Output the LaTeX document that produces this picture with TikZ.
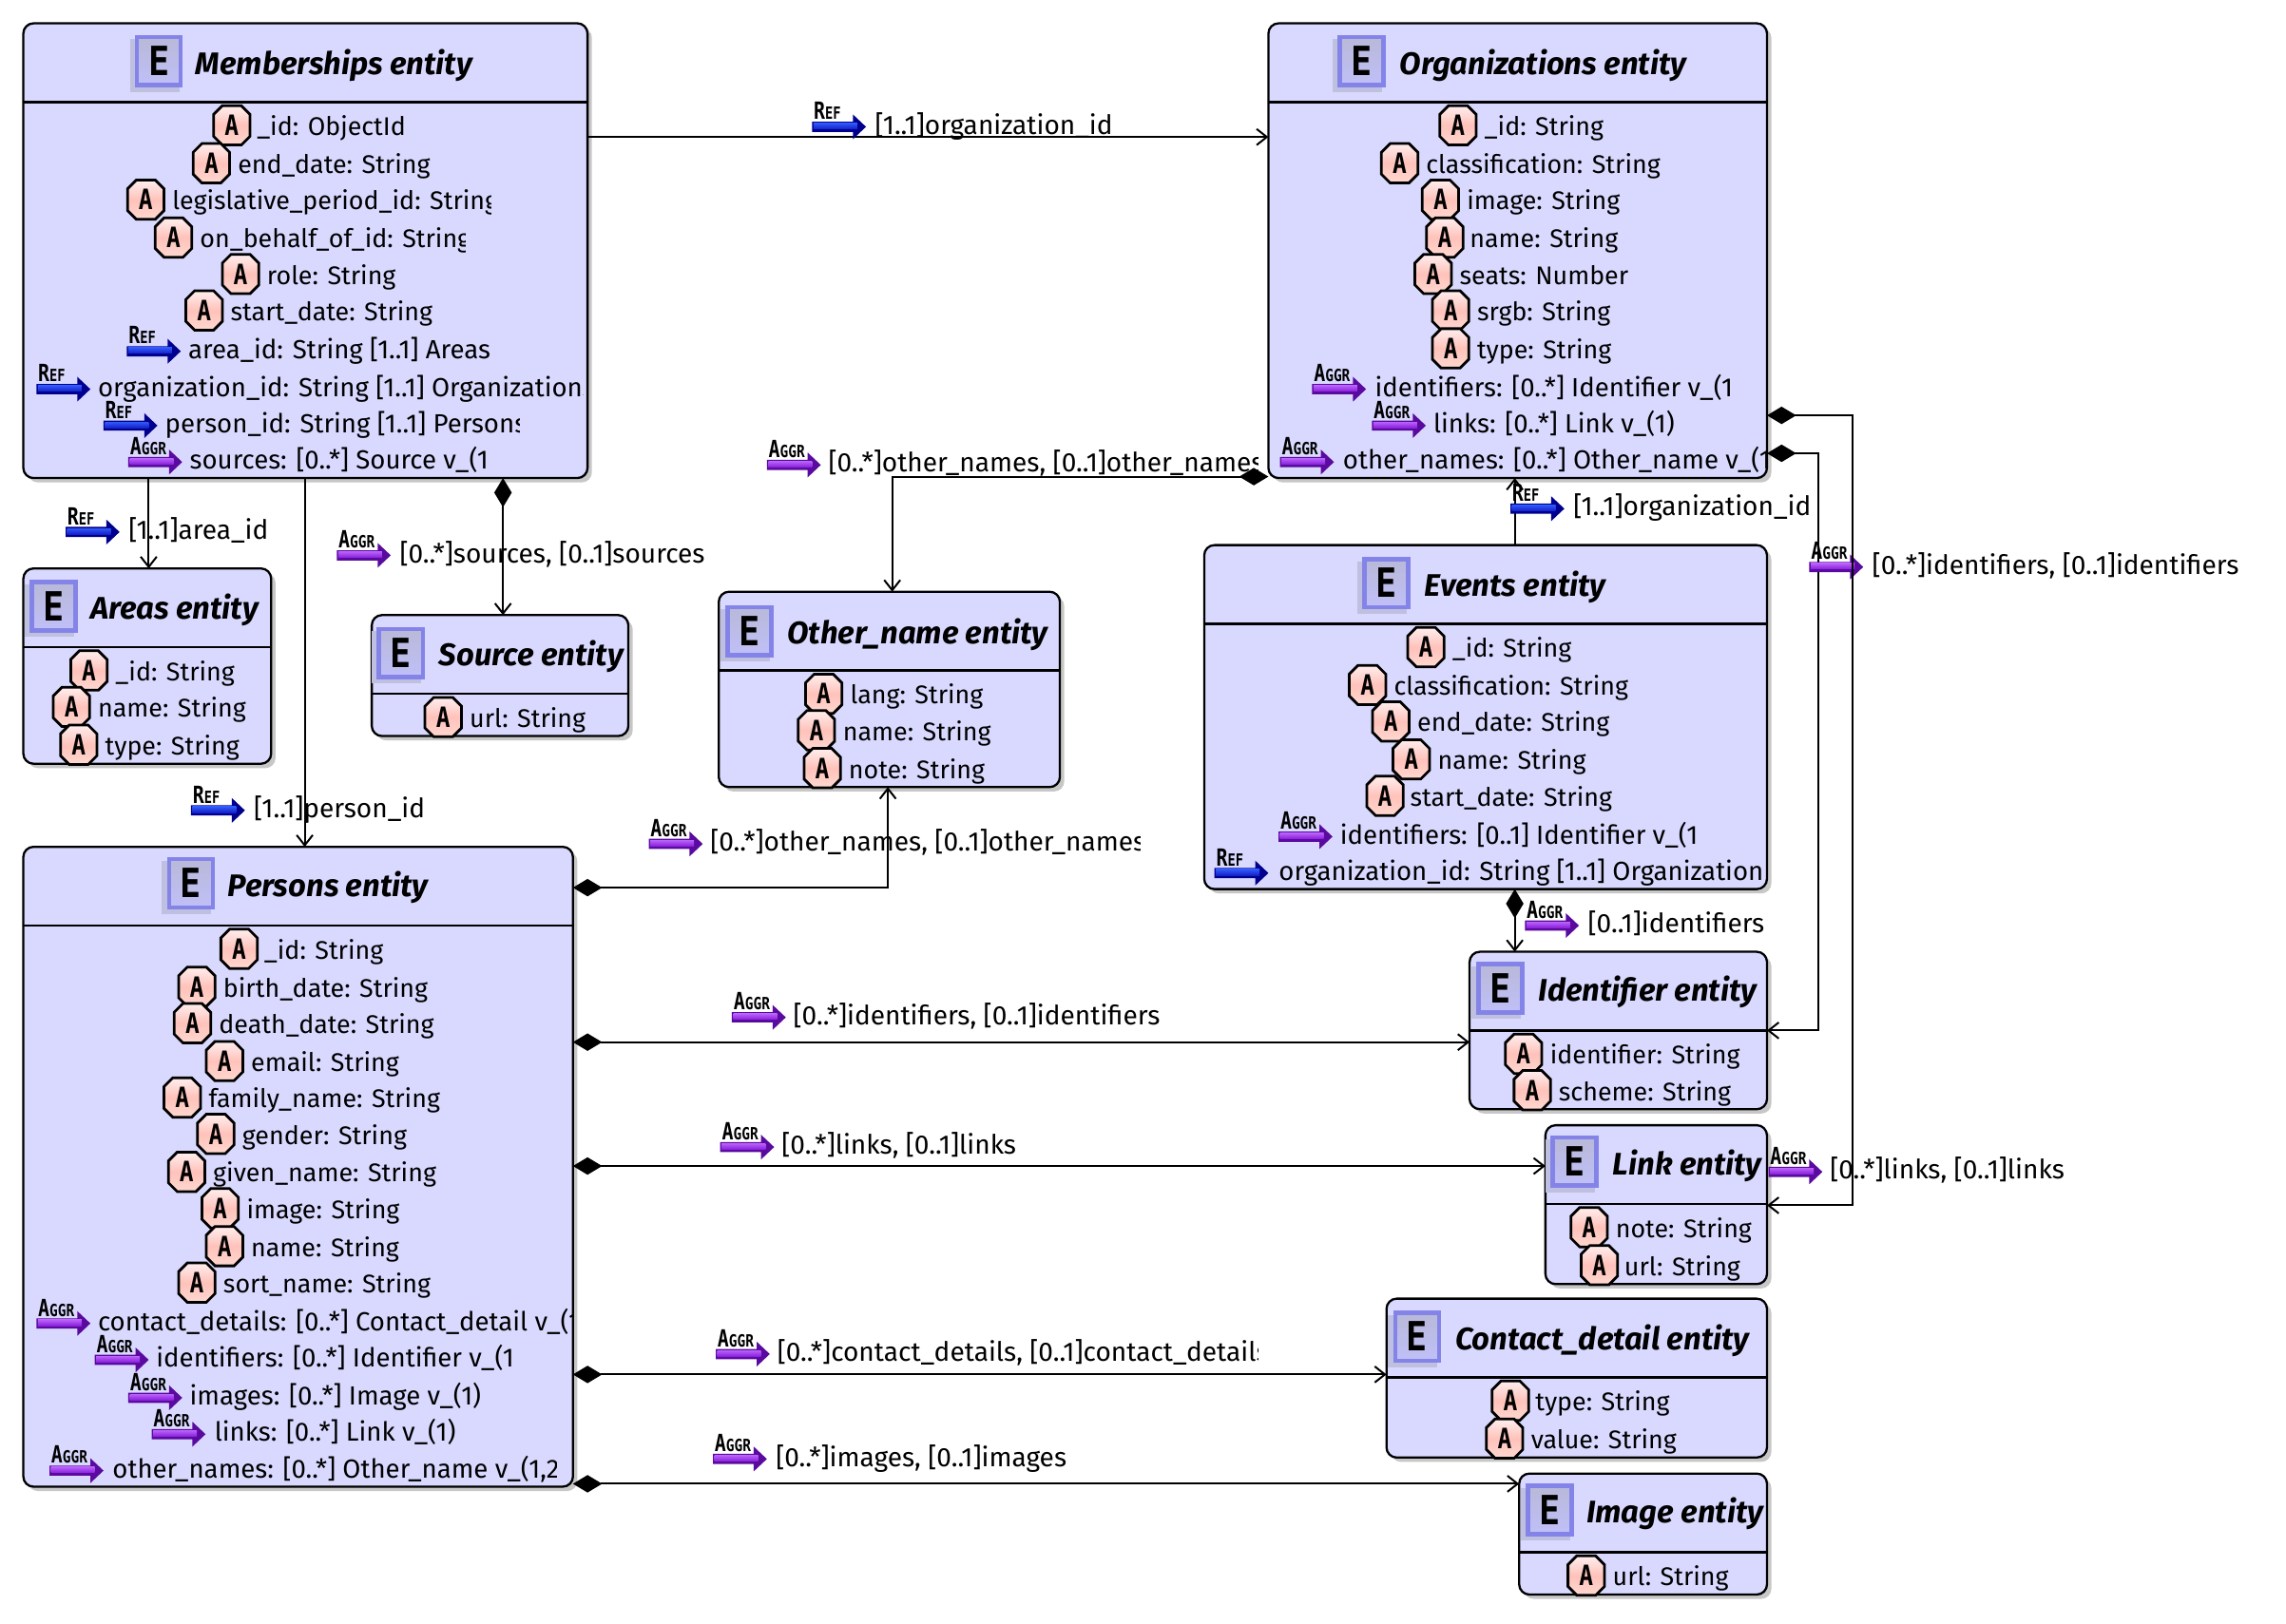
\documentclass[tikz,border=0pt]{standalone}
\usepackage{fontspec}
\setmainfont{Fira Sans}
\newfontfamily\pixfont{DejaVu Sans Mono}
\usetikzlibrary{arrows.meta,shadows,calc}
\definecolor{boxfill}{HTML}{D9D9FF}
\definecolor{refdark}{HTML}{00008E}
\definecolor{refmid}{HTML}{1420C8}
\definecolor{reflight}{HTML}{3058F8}
\definecolor{agdark}{HTML}{5A0A9E}
\definecolor{agmid}{HTML}{8A20DC}
\definecolor{aglight}{HTML}{B860F8}
\definecolor{eborder}{HTML}{8484E8}
\definecolor{atop}{HTML}{FFEEEE}
\definecolor{amid}{HTML}{FFC2BA}
\definecolor{abot}{HTML}{FFD8D0}
\newcounter{nid}
\newcommand{\rowfont}{\fontsize{18}{20}\selectfont}
\tikzset{
 entitybox/.style={draw=black,line width=1.5pt,fill=boxfill,rounded corners=7pt,inner sep=0pt,outer sep=0pt,
   drop shadow={shadow xshift=3pt,shadow yshift=-3pt,fill=black!22,opacity=1}},
 divider/.style={draw=black,line width=1.5pt},
 titletext/.style={anchor=base west,inner sep=0pt,font=\fontsize{21.4}{24}\selectfont\bfseries\itshape},
 rowtext/.style={anchor=base west,inner sep=0pt,font=\rowfont},
 aoct/.style={draw=black,line width=1.8pt,top color=atop,bottom color=abot,middle color=amid},
 aglyph/.style={inner sep=0pt,font=\pixfont\bfseries\fontsize{16}{16}\selectfont},
 eicon/.style={draw=eborder,line width=3pt,minimum width=30pt,minimum height=33pt,inner sep=0pt,
   top color=black!15!boxfill,bottom color=boxfill!70!eborder,font=\pixfont\bfseries\fontsize{24}{24}\selectfont},
 eback/.style={fill=black!12!boxfill},
 refarrow/.style={fill=refdark},
 agarrow/.style={fill=agdark},
 refshaft/.style={top color=reflight,bottom color=refmid},
 agshaft/.style={top color=aglight,bottom color=agmid},
 icontext/.style={anchor=base west,inner sep=0pt,font=\pixfont\bfseries},
 assoc/.style={draw=black,line width=1.3pt,-{Straight Barb[length=7pt,width=11pt,line width=1.3pt]}},
 aggrlink/.style={draw=black,line width=1.3pt,{Diamond[length=20pt,width=12pt]}-{Straight Barb[length=7pt,width=11pt,line width=1.3pt]}},
}
\newcommand{\etitle}[5]{% name, icon x, icon y, title x, text
 \fill[eback] ($(#2,#3)+(-20,-15)$) rectangle ($(#2,#3)+(14,21)$);%
 \node[eicon] (#1icon) at (#2,#3) {\scalebox{1}[1.15]{E}};%
 \node[titletext] (#1title) at (#4,#3+9) {#5};%
}
\newcommand{\tx}[4]{% x, y, clip x, text
 \stepcounter{nid}%
 \begin{scope}\clip (#1-2,#2-15) rectangle (#3,#2+15);%
 \node[rowtext] (t\arabic{nid}) at (#1,#2+7) {#4};\end{scope}%
}
\newcommand{\icA}[2]{\stepcounter{nid}%
 \path[aoct] (#1-6.5,#2-13.5) -- (#1+6.5,#2-13.5) -- (#1+12.5,#2-7.5) -- (#1+12.5,#2+7.5) -- (#1+6.5,#2+13.5) -- (#1-6.5,#2+13.5) -- (#1-12.5,#2+7.5) -- (#1-12.5,#2-7.5) -- cycle;%
 \node[aglyph] (a\arabic{nid}) at (#1,#2) {\scalebox{1}[1.2]{A}};}
\newcommand{\icarrow}[5]{% arrow style, shaft style, left x, row y, caption
 \stepcounter{nid}%
 \path[#1] (#3,#4-1.5) -- ++(28,0) -- ++(0,-5) -- ++(9,8.5) -- ++(-9,8.5) -- ++(0,-5) -- ++(-28,0) -- cycle;%
 \shade[#2] (#3+1,#4-0.5) rectangle (#3+31,#4+3.5);%
 \node[icontext] (c\arabic{nid}) at (#3+1,#4-3) {#5};%
}
\newcommand{\capR}{{\fontsize{13}{13}\selectfont\scalebox{1}[1.25]{R}}{\fontsize{10.5}{10}\selectfont\scalebox{.85}[1.1]{EF}}}
\newcommand{\capG}{{\fontsize{13}{13}\selectfont\scalebox{1}[1.25]{A}}{\fontsize{10.5}{10}\selectfont\scalebox{.9}[1.1]{GGR}}}
\newcommand{\attrsize}{\fontsize{17.5}{20}\selectfont}
% attribute row: icon x, text x, y, text
\newcommand{\ra}[4]{\icA{#1}{#3}\tx{#2}{#3}{9999}{\attrsize #4}}
\newcommand{\rac}[5]{\icA{#1}{#3}\tx{#2}{#3}{#4}{\attrsize #5}}
% ref row: left x, text x, y, clip, text
\newcommand{\rr}[5]{\icarrow{refarrow}{refshaft}{#1}{#3}{\capR}\tx{#2}{#3}{#4}{#5}}
\newcommand{\rg}[5]{\icarrow{agarrow}{agshaft}{#1}{#3}{\capG}\tx{#2}{#3}{#4}{#5}}
\newcommand{\ebox}[6]{%
 \pgfmathsetmacro{\ww}{#4-#2}\pgfmathsetmacro{\hh}{#5-#3}%
 \pgfmathsetmacro{\cx}{(#4+#2)/2}\pgfmathsetmacro{\cy}{(#5+#3)/2}%
 \node[entitybox,minimum width=\ww pt,minimum height=\hh pt] (#1) at (\cx,\cy) {};%
 \draw[divider] (#1.west |- 0,#6) -- (#1.east |- 0,#6);}
\begin{document}
\begin{tikzpicture}[x=1pt,y=-1pt]
\useasboundingbox (0,0) rectangle (1568,1113.6);
\fill[white] (0,0) rectangle (1568,1113.6);
% boxes
\ebox{memb}{16}{16}{403}{328}{70}
\ebox{org}{870}{16}{1212}{328}{70}
\ebox{areas}{16}{390}{186}{524}{444}
\ebox{source}{255}{422}{431}{505}{476}
\ebox{oname}{493}{406}{727}{540}{460}
\ebox{events}{826}{374}{1212}{610}{428}
\ebox{persons}{16}{581}{393}{1020}{635}
\ebox{ident}{1008}{653}{1212}{761}{707}
\ebox{link}{1060}{772}{1212}{881}{826}
\ebox{contact}{951}{891}{1212}{1000}{945}
\ebox{image}{1042}{1011}{1212}{1094}{1065}
% titles
\etitle{memb}{109}{42}{134}{Memberships entity}
\etitle{org}{934}{42}{960}{Organizations entity}
\etitle{areas}{37}{416}{62}{Areas entity}
\etitle{source}{275}{448}{301}{Source entity}
\etitle{oname}{514}{433}{540}{Other\_name entity}
\etitle{events}{951}{400}{977}{Events entity}
\etitle{persons}{131}{606}{156}{Persons entity}
\etitle{ident}{1029}{678}{1055}{Identifier entity}
\etitle{link}{1080}{797}{1106}{Link entity}
\etitle{contact}{972}{917}{998}{Contact\_detail entity}
\etitle{image}{1063}{1036}{1088}{Image entity}
% rows memberships
\ra{159}{176}{86}{\_id: ObjectId}
\ra{145}{163}{112}{end\_date: String}
\rac{100}{118}{137}{337}{legislative\_period\_id: String}
\rac{119}{137}{163}{319}{on\_behalf\_of\_id: String}
\ra{165}{183}{188}{role: String}
\ra{140}{158}{213}{start\_date: String}
\rr{87}{129}{239}{9999}{area\_id: String [1..1] Areas}
\rr{25}{67}{265}{400}{organization\_id: String [1..1] Organizations}
\rr{71}{113}{290}{356}{person\_id: String [1..1] Persons}
\rg{88}{130}{315}{335}{sources: [0..*] Source v\_(1)}
% rows organizations
\ra{1000}{1018}{86}{\_id: String}
\ra{960}{978}{112}{classification: String}
\ra{988}{1006}{137}{image: String}
\ra{991}{1008}{163}{name: String}
\ra{983}{1001}{188}{seats: Number}
\ra{995}{1013}{213}{srgb: String}
\ra{995}{1013}{239}{type: String}
\rg{900}{943}{265}{1188}{identifiers: [0..*] Identifier v\_(1)}
\rg{941}{983}{290}{9999}{links: [0..*] Link v\_(1)}
\rg{878}{921}{315}{1212}{other\_names: [0..*] Other\_name v\_(1,2)}
% rows events
\ra{978}{996}{444}{\_id: String}
\ra{938}{956}{470}{classification: String}
\ra{954}{972}{495}{end\_date: String}
\ra{968}{986}{521}{name: String}
\ra{950}{967}{546}{start\_date: String}
\rg{877}{919}{572}{1165}{identifiers: [0..1] Identifier v\_(1)}
\rr{833}{877}{597}{1210}{organization\_id: String [1..1] Organizations}
% small boxes
\ra{61}{79}{460}{\_id: String}
\ra{49}{67}{485}{name: String}
\ra{54}{72}{511}{type: String}
\ra{304}{322}{492}{url: String}
\ra{565}{583}{476}{lang: String}
\ra{560}{578}{501}{name: String}
\ra{564}{582}{527}{note: String}
\ra{1045}{1063}{723}{identifier: String}
\ra{1051}{1069}{748}{scheme: String}
\ra{1090}{1108}{842}{note: String}
\ra{1097}{1114}{868}{url: String}
\ra{1036}{1053}{961}{type: String}
\ra{1032}{1050}{987}{value: String}
\ra{1088}{1106}{1081}{url: String}
% rows persons
\ra{164}{181}{651}{\_id: String}
\ra{135}{153}{677}{birth\_date: String}
\ra{132}{150}{702}{death\_date: String}
\ra{154}{172}{728}{email: String}
\ra{125}{143}{753}{family\_name: String}
\ra{148}{166}{778}{gender: String}
\ra{128}{146}{804}{given\_name: String}
\ra{151}{169}{829}{image: String}
\ra{154}{172}{855}{name: String}
\ra{135}{153}{880}{sort\_name: String}
\rg{25}{67}{906}{392}{contact\_details: [0..*] Contact\_detail v\_(1)}
\rg{65}{107}{931}{351}{identifiers: [0..*] Identifier v\_(1)}
\rg{88}{130}{957}{9999}{images: [0..*] Image v\_(1)}
\rg{104}{147}{982}{9999}{links: [0..*] Link v\_(1)}
\rg{34}{77}{1007}{382}{other\_names: [0..*] Other\_name v\_(1,2)}
% connectors
\draw[assoc] (memb.east |- 0,94) -- (org.west |- 0,94);
\draw[assoc] (memb.south -| 102,0) -- (areas.north -| 102,0);
\draw[assoc] (memb.south -| 209,0) -- (persons.north -| 209,0);
\draw[aggrlink] (memb.south -| 345,0) -- (source.north -| 345,0);
\draw[aggrlink] (org.west |- 0,327) -| (oname.north -| 612,0);
\draw[assoc] (events.north -| 1039,0) -- (org.south -| 1039,0);
\draw[aggrlink] (events.south -| 1039,0) -- (ident.north -| 1039,0);
\draw[aggrlink] (org.east |- 0,311) -- (1247,311) -- (1247,707) -- (ident.east |- 0,707);
\draw[aggrlink] (persons.east |- 0,609) -| (oname.south -| 609,0);
\draw[aggrlink] (persons.east |- 0,715) -- (ident.west |- 0,715);
\draw[aggrlink] (persons.east |- 0,800) -- (link.west |- 0,800);
\draw[aggrlink] (persons.east |- 0,943) -- (contact.west |- 0,943);
\draw[aggrlink] (persons.east |- 0,1018) -- (image.west |- 0,1018);
% labels
\renewcommand{\rowfont}{\fontsize{18.3}{20}\selectfont}
\rr{557}{600}{85}{9999}{[1..1]organization\_id}
\rr{45}{88}{363}{9999}{[1..1]area\_id}
\rr{131}{174}{554}{9999}{[1..1]person\_id}
\rg{231}{274}{379}{9999}{[0..*]sources, [0..1]sources}
\rg{526}{568}{317}{863}{[0..*]other\_names, [0..1]other\_names}
\rr{1036}{1079}{347}{9999}{[1..1]organization\_id}
\rg{1241}{1284}{387}{9999}{[0..*]identifiers, [0..1]identifiers}
\rg{1213}{1255}{802}{9999}{[0..*]links, [0..1]links}
\rg{1046}{1089}{633}{9999}{[0..1]identifiers}
\rg{445}{487}{577}{782}{[0..*]other\_names, [0..1]other\_names}
\rg{502}{544}{696}{9999}{[0..*]identifiers, [0..1]identifiers}
\rg{494}{536}{785}{9999}{[0..*]links, [0..1]links}
\rg{491}{533}{927}{863}{[0..*]contact\_details, [0..1]contact\_details}
\rg{489}{532}{999}{9999}{[0..*]images, [0..1]images}
\draw[aggrlink] (org.east |- 0,285) -- (1271,285) -- (1271,827) -- (link.east |- 0,827);
\end{tikzpicture}
\end{document}
